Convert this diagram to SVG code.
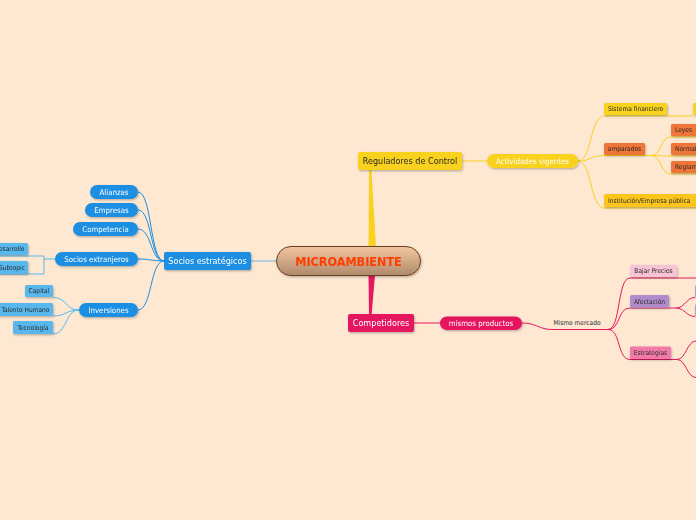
<svg xmlns="http://www.w3.org/2000/svg" width="696" height="520" viewBox="0 0 696 520">
<defs>
<linearGradient id="cg" x1="0" y1="0" x2="0" y2="1">
<stop offset="0" stop-color="#f4c6a0"/>
<stop offset="1" stop-color="#ae8a6b"/>
</linearGradient>
<filter id="sh" x="-20%" y="-30%" width="140%" height="170%">
<feDropShadow dx="0.8" dy="1.2" stdDeviation="0.8" flood-color="#000" flood-opacity="0.28"/>
</filter>
<style>
text{font-family:"DejaVu Sans Condensed","Liberation Sans",sans-serif;}
.c{fill:none;stroke-width:1;}
.b{stroke:#1b8fe2;}
.lb{stroke:#58b8ee;}
.y{stroke:#f8d21f;}
.p{stroke:#e5195f;}
.n{filter:url(#sh);}
.t9{font-size:9px;}
.t8{font-size:7.8px;}
.t7{font-size:6.6px;fill:#2a2a2a;}
.w{fill:#fff;}
.m{text-anchor:middle;}
.e{text-anchor:end;}
</style>
</defs>
<rect width="696" height="520" fill="#fee8d2"/>

<g id="connectors">
<polygon points="369,170 371.5,170 376,248 368.5,248" fill="#f8d21f"/>
<polygon points="368.5,275 375,275 371.5,316 369,316" fill="#e5195f"/>
<path class="c" stroke="#6db4e2" d="M251,261 H277"/>
<path class="c b" d="M164,261 C150,261 152,192 138,192"/>
<path class="c b" d="M164,261 C150,261 152,210 138,210"/>
<path class="c b" d="M164,261 C150,261 152,229 138,229"/>
<path class="c b" d="M164,261 C152,261 150,259 138,259"/>
<path class="c b" d="M164,261 C150,261 152,310 138,310"/>
<path class="c lb" d="M79,310 C65,310 67,297.5 53,297.5"/>
<path class="c lb" d="M79,310 C65,310 67,316 53,316"/>
<path class="c lb" d="M79,310 C65,310 67,334 53,334"/>
<path class="c lb" d="M55,259 H44 M0,256 H44 V274 H0"/>
<path class="c y" d="M462,161 H487"/>
<path class="c y" d="M578,161 C592,161 590,116 604,116 H693"/>
<path class="c y" d="M578,161 C592,161 590,155.5 604,155.5 H651"/>
<path class="c y" d="M578,161 C592,161 590,208 604,208 H695"/>
<path class="c y" d="M651,155.5 C662,155.5 660,137 671,137 H696"/>
<path class="c y" d="M651,155.5 C660,155.5 662,156 671,156 H696"/>
<path class="c y" d="M651,155.5 C662,155.5 660,174 671,174 H696"/>
<path class="c p" d="M414,323 H440"/>
<path class="c p" d="M522,323 C537,323 538,329.5 553,329.5 H608"/>
<path class="c p" d="M608,329.5 C621,329.5 617,278 630,278 H696"/>
<path class="c p" d="M608,329.5 C621,329.5 617,308 630,308 H676"/>
<path class="c p" d="M608,329.5 C621,329.5 617,359.5 630,359.5 H677"/>
<path class="c p" d="M676,308 C685,308 686,297.5 695,297.5"/>
<path class="c p" d="M676,308 C685,308 686,316.5 695,316.5"/>
<path class="c p" d="M677,359.5 C686,359.5 687,341 696,341"/>
<path class="c p" d="M677,359.5 C686,359.5 687,377.5 696,377.5"/>
</g>

<g id="central" class="n">
<rect x="276.5" y="246.5" width="144" height="29" rx="14.5" fill="url(#cg)" stroke="#6b4120"/>
<text x="348.5" y="265.6" class="m" font-size="12.5" font-weight="bold" fill="#ff3d00">MICROAMBIENTE</text>
</g>

<g id="socios" class="n">
<rect x="164" y="252" width="87" height="18" rx="2" fill="#1b8fe2"/>
<text x="207.5" y="264.2" class="m t9 w">Socios estratégicos</text>
</g>
<g id="alianzas" class="n">
<rect x="90" y="185" width="48" height="14" rx="7" fill="#1b8fe2"/>
<text x="114" y="194.8" class="m t8 w">Alianzas</text>
</g>
<g id="empresas" class="n">
<rect x="85" y="203" width="53" height="14" rx="7" fill="#1b8fe2"/>
<text x="111.5" y="212.8" class="m t8 w">Empresas</text>
</g>
<g id="competencia" class="n">
<rect x="73" y="222" width="65" height="14" rx="7" fill="#1b8fe2"/>
<text x="105.5" y="231.8" class="m t8 w">Competencia</text>
</g>
<g id="extranjeros" class="n">
<rect x="55" y="252" width="83" height="14" rx="7" fill="#1b8fe2"/>
<text x="96.5" y="261.8" class="m t8 w">Socios extranjeros</text>
</g>
<g id="inversiones" class="n">
<rect x="79" y="303" width="59" height="14" rx="7" fill="#1b8fe2"/>
<text x="108.5" y="312.8" class="m t8 w">Inversiones</text>
</g>
<g id="desarrollo" class="n">
<rect x="-10" y="243" width="38" height="12" rx="1.5" fill="#58b8ee"/>
<text x="24.5" y="251.3" class="e t7">esarrollo</text>
</g>
<g id="subtopic" class="n">
<rect x="-10" y="261" width="38" height="13" rx="1.5" fill="#58b8ee"/>
<text x="25" y="269.8" class="e t7">Subtopic</text>
</g>
<g id="capital" class="n">
<rect x="25" y="285" width="28" height="12" rx="1.5" fill="#58b8ee"/>
<text x="39" y="293.3" class="m t7">Capital</text>
</g>
<g id="talento" class="n">
<rect x="-5" y="303" width="58" height="13" rx="1.5" fill="#58b8ee"/>
<text x="49.5" y="312" class="e t7">Talento Humano</text>
</g>
<g id="tecnologia" class="n">
<rect x="13" y="321" width="40" height="13" rx="1.5" fill="#58b8ee"/>
<text x="33" y="330" class="m t7">Tecnología</text>
</g>

<g id="reguladores" class="n">
<rect x="358" y="152" width="104" height="18" rx="2" fill="#f8d21f"/>
<text x="410" y="164.3" class="m t9" fill="#2a2a2a">Reguladores de Control</text>
</g>
<g id="actividades" class="n">
<rect x="487" y="154" width="91" height="14" rx="7" fill="#f8d21f"/>
<text x="532.5" y="163.8" class="m t8 w">Actividades vigentes</text>
</g>
<g id="sistema" class="n">
<rect x="604" y="103" width="63" height="12" rx="1.5" fill="#f8d21f"/>
<text x="635.5" y="111.4" class="m t7">Sistema financiero</text>
</g>
<g id="sistema-child" class="n">
<rect x="693" y="103" width="12" height="12" rx="1.5" fill="#f8d21f"/>
</g>
<g id="amparados" class="n">
<rect x="604" y="143" width="41" height="12" rx="1.5" fill="#ef7437"/>
<text x="624.5" y="151.4" class="m t7">amparados</text>
</g>
<g id="leyes" class="n">
<rect x="671" y="124" width="32" height="12" rx="1.5" fill="#ef7437"/>
<text x="675" y="132.4" class="t7">Leyes</text>
</g>
<g id="normat" class="n">
<rect x="671" y="143" width="32" height="12" rx="1.5" fill="#ef7437"/>
<text x="675" y="151.4" class="t7">Normat</text>
</g>
<g id="reglam" class="n">
<rect x="671" y="161" width="32" height="12" rx="1.5" fill="#ef7437"/>
<text x="675" y="169.4" class="t7">Reglam</text>
</g>
<g id="institucion" class="n">
<rect x="604" y="194" width="95" height="13" rx="1.5" fill="#fbc51c"/>
<text x="608" y="202.8" class="t7">Institución/Empresa pública</text>
</g>

<g id="competidores" class="n">
<rect x="348" y="314" width="66" height="18" rx="2" fill="#e5195f"/>
<text x="381" y="326.3" class="m t9 w">Competidores</text>
</g>
<g id="mismos" class="n">
<rect x="440" y="316.5" width="82" height="13.5" rx="6.75" fill="#e5195f"/>
<text x="481" y="326" class="m t8 w">mismos productos</text>
</g>
<g id="mercado">
<text x="577" y="325.3" class="m t7">Mismo mercado</text>
</g>
<g id="bajar" class="n">
<rect x="630" y="265" width="47" height="12" rx="1.5" fill="#f9c3d6"/>
<text x="653.5" y="273.4" class="m t7">Bajar Precios</text>
</g>
<g id="afectacion" class="n">
<rect x="630" y="295" width="39" height="12.5" rx="1.5" fill="#b08ccb"/>
<text x="649.5" y="303.6" class="m t7">Afectación</text>
</g>
<g id="afect-c1" class="n">
<rect x="695" y="285" width="12" height="12.5" rx="1.5" fill="#b3a1cc"/>
</g>
<g id="afect-c2" class="n">
<rect x="695" y="304" width="12" height="12.5" rx="1.5" fill="#b3a1cc"/>
</g>
<g id="estrategias" class="n">
<rect x="630" y="346.5" width="41" height="12.5" rx="1.5" fill="#f27aa8"/>
<text x="650.5" y="355.1" class="m t7">Estrategias</text>
</g>
</svg>
